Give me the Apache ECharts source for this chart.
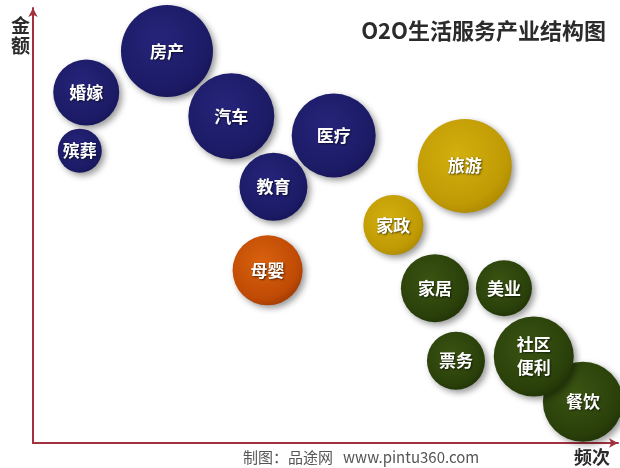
<!DOCTYPE html>
<html>
<head>
<meta charset="utf-8">
<script src="https://cdn.jsdelivr.net/npm/echarts@6/dist/echarts.min.js"></script>
<style>
  html, body { margin: 0; padding: 0; background: #ffffff; }
  #chart { width: 620px; height: 468px; }
</style>
</head>
<body>
<div id="chart"></div>
<script>
// O2O service industries: frequency (x), amount (y), bubble size, colour group
var industries = ['房产', '婚嫁', '殡葬', '汽车', '医疗', '教育', '旅游', '家政', '母婴', '家居', '美业', '票务', '餐饮', '社区\n便利'];
var frequency  = [22.9, 9.1, 8.0, 33.9, 51.4, 41.1, 73.8, 61.6, 40.1, 68.7, 80.5, 72.3, 94.0, 85.6];
var amount     = [90.1, 80.6, 67.2, 75.1, 70.7, 58.9, 63.7, 50.1, 39.7, 35.6, 35.6, 18.9, 9.5, 19.9];
var bubbleSize = [92, 66, 44, 86, 84, 68, 94, 60, 70, 68, 56, 58, 80, 80];
var groups     = ['navy', 'navy', 'navy', 'navy', 'navy', 'navy', 'gold', 'gold', 'orange', 'green', 'green', 'green', 'green', 'green'];

var palette = {
  navy:   ['#25247a', '#1c1b66', '#121150'],
  gold:   ['#d2b00e', '#c09a04', '#a07e00'],
  orange: ['#d9620e', '#bf4a04', '#8e3000'],
  green:  ['#3a5412', '#2a400a', '#1a2a04']
};

function bubbleColor(g) {
  var c = palette[g];
  return new echarts.graphic.RadialGradient(0.42, 0.38, 0.75, [
    { offset: 0, color: c[0] },
    { offset: 0.7, color: c[1] },
    { offset: 1, color: c[2] }
  ]);
}

var points = industries.map(function (name, i) {
  return {
    name: name,
    value: [frequency[i], amount[i], bubbleSize[i]],
    itemStyle: { color: bubbleColor(groups[i]) }
  };
});

var chart = echarts.init(document.getElementById('chart'), null, { renderer: 'canvas' });

chart.setOption({
  backgroundColor: '#ffffff',
  animation: false,
  grid: { left: 33, right: 2, top: 8, bottom: 25 },
  xAxis: {
    type: 'value', min: 0, max: 100,
    axisLine: { show: true, lineStyle: { color: '#a3303e', width: 2 }, symbol: ['none', 'arrow'], symbolSize: [7, 9] },
    axisTick: { show: false }, axisLabel: { show: false }, splitLine: { show: false }
  },
  yAxis: {
    type: 'value', min: 0, max: 100,
    axisLine: { show: true, lineStyle: { color: '#a3303e', width: 2 }, symbol: ['none', 'arrow'], symbolSize: [7, 9] },
    axisTick: { show: false }, axisLabel: { show: false }, splitLine: { show: false }
  },
  title: [
    {
      text: 'O2O生活服务产业结构图',
      right: 9, top: 15,
      textStyle: { fontFamily: 'Noto Sans CJK SC', fontWeight: 'bold', fontSize: 22, color: '#2b2b2b' }
    },
    {
      text: '金\n额',
      left: 6, top: 11,
      textStyle: { fontFamily: 'Noto Sans CJK SC', fontWeight: 'bold', fontSize: 19, lineHeight: 20, color: '#2b2b2b' }
    },
    {
      text: '频次',
      right: 5, top: 443,
      textStyle: { fontFamily: 'Noto Sans CJK SC', fontWeight: 'bold', fontSize: 18, color: '#2b2b2b' }
    },
    {
      text: '制图：品途网   www.pintu360.com',
      left: 238, top: 445,
      textStyle: { fontFamily: 'Noto Sans CJK SC', fontWeight: 'normal', fontSize: 15, color: '#555555' }
    }
  ],
  series: [{
    type: 'scatter',
    data: points,
    symbolSize: function (v) { return v[2]; },
    itemStyle: {
      opacity: 1,
      shadowColor: 'rgba(0,0,0,0.4)',
      shadowBlur: 6,
      shadowOffsetX: 3,
      shadowOffsetY: 3
    },
    label: {
      show: true,
      position: 'inside',
      formatter: '{b}',
      fontFamily: 'Noto Sans CJK SC',
      fontWeight: 'bold',
      fontSize: 17,
      lineHeight: 23,
      color: '#ffffff',
      textShadowColor: 'rgba(0,0,0,0.6)',
      textShadowBlur: 2,
      textShadowOffsetX: 1,
      textShadowOffsetY: 1
    },
    emphasis: { disabled: true }
  }]
});
</script>
</body>
</html>
